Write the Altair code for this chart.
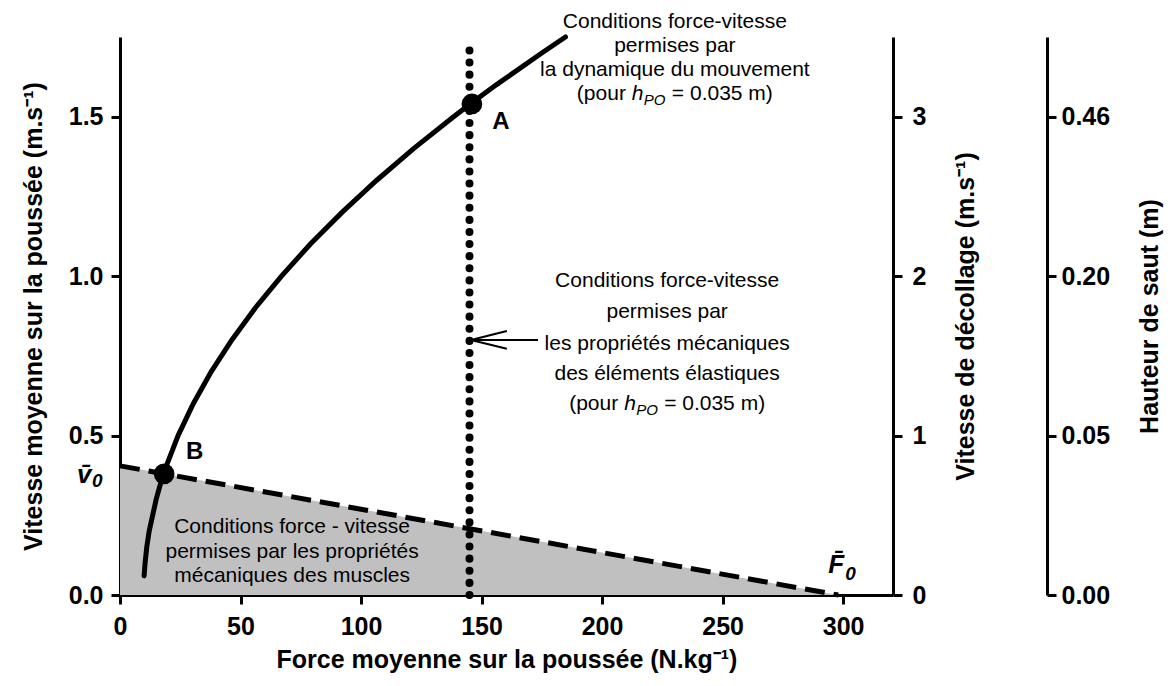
import altair as alt
import pandas as pd

FONT = "Liberation Sans"

# ---------------- data ----------------
# force-velocity conditions allowed by movement dynamics (hPO = 0.035 m)
curve_force = [10.0, 10.4, 11.1, 12.1, 15.0, 17.4, 19.0, 24.1, 30.4, 37.8, 46.4,
               56.1, 67.0, 78.9, 92.1, 106.4, 121.8, 138.4, 145.3, 156.1, 175.0, 184.8]
curve_velocity = [0.06, 0.10, 0.15, 0.20, 0.30, 0.365, 0.40, 0.50, 0.60, 0.70, 0.80,
                  0.90, 1.00, 1.10, 1.20, 1.30, 1.40, 1.50, 1.54, 1.60, 1.70, 1.75]
# muscle force-velocity relationship (v0 -> F0)
muscle_force = [0.0, 298.0]
muscle_velocity = [0.405, 0.0]
# elastic elements condition (vertical dotted line)
elastic_force = [145.0, 145.0]
elastic_velocity = [0.0, 1.73]
# highlighted points
point_names = ["A", "B"]
point_force = [146.0, 18.3]
point_velocity = [1.54, 0.38]
# axes ticks
x_ticks = [0, 50, 100, 150, 200, 250, 300]
y_ticks = [0.0, 0.5, 1.0, 1.5]
takeoff_ticks = [0, 1, 2, 3]
height_labels = ["0.00", "0.05", "0.20", "0.46"]

X_DOMAIN = [0, 320.7]
Y_DOMAIN = [0, 1.75]

curve_df = pd.DataFrame({"F": curve_force, "v": curve_velocity})
muscle_df = pd.DataFrame({"F": muscle_force, "v": muscle_velocity})
elastic_df = pd.DataFrame({"F": [elastic_force[0]], "v": [elastic_velocity[0]], "v2": [elastic_velocity[1]]})
points_df = pd.DataFrame({"name": point_names, "F": point_force, "v": point_velocity})

xs = alt.Scale(domain=X_DOMAIN, nice=False, zero=False)
ys = alt.Scale(domain=Y_DOMAIN, nice=False, zero=False)

common_axis = dict(
    domainColor="black", domainWidth=3, tickColor="black", tickWidth=3, tickSize=9,
    labelFont=FONT, labelFontSize=25, labelFontWeight="bold", labelColor="black",
    titleFont=FONT, titleFontSize=25, titleFontWeight="bold", titleColor="black",
    grid=False, labelFlush=False,
)

X_TITLE = "Force moyenne sur la poussée (N.kg⁻¹)"
Y_TITLE = "Vitesse moyenne sur la poussée (m.s⁻¹)"
x_axis = alt.Axis(values=x_ticks, format="d", labelPadding=10, titlePadding=8,
                  title=X_TITLE, **common_axis)
y_axis = alt.Axis(values=y_ticks, format=".1f", labelPadding=8, titlePadding=22,
                  title=Y_TITLE, **common_axis)

X = lambda: alt.X("F:Q", scale=xs, axis=x_axis, title=X_TITLE)
Y = lambda: alt.Y("v:Q", scale=ys, axis=y_axis, title=Y_TITLE)

area = alt.Chart(muscle_df).mark_area(color="#c0c0c0", opacity=1).encode(x=X(), y=Y())
dashed = alt.Chart(muscle_df).mark_line(color="black", strokeWidth=5, strokeDash=[20, 9]).encode(
    x=X(), y=Y())
dotted = alt.Chart(elastic_df).mark_rule(color="black", strokeWidth=8, strokeCap="round",
                                         strokeDash=[0.1, 12]).encode(
    x=X(), y=Y(), y2="v2:Q")
curve = alt.Chart(curve_df).mark_line(color="black", strokeWidth=5, strokeCap="round").encode(
    x=X(), y=Y())
points = alt.Chart(points_df).mark_point(filled=True, color="black", size=430, opacity=1).encode(
    x=X(), y=Y())

# arrow pointing to the elastic line
arrow_df = pd.DataFrame({
    "F": [145.6, 145.6, 145.6],
    "F2": [173.4, 160.5, 160.5],
    "v": [0.80, 0.80, 0.80],
    "v2": [0.80, 0.828, 0.772],
})
arrow = alt.Chart(arrow_df).mark_rule(color="black", strokeWidth=2).encode(
    x=X(), x2="F2:Q", y=Y(), y2="v2:Q")


def text_layer(df, **style):
    base = dict(font=FONT, color="black")
    base.update(style)
    return alt.Chart(df).mark_text(**base).encode(x=X(), y=Y(), text="t:N")


plain_df = pd.DataFrame({
    "t": ["Conditions force-vitesse", "permises par", "la dynamique du mouvement",
          "Conditions force-vitesse", "permises par", "les propriétés mécaniques",
          "des éléments élastiques",
          "Conditions force - vitesse", "permises par les propriétés", "mécaniques des muscles"],
    "F": [230.2, 230.2, 230.2, 227.0, 227.0, 227.0, 227.0, 71.4, 71.4, 71.4],
    "v": [1.778, 1.702, 1.627, 0.966, 0.869, 0.768, 0.674, 0.194, 0.116, 0.041],
})
plain = text_layer(plain_df, fontSize=21, align="center", baseline="alphabetic")

hpo_F = [230.2, 227.0]
hpo_v = [1.552, 0.580]
hpo1 = text_layer(pd.DataFrame({"t": ["(pour", "(pour"], "F": hpo_F, "v": hpo_v}),
                  fontSize=21, align="left", baseline="alphabetic", dx=-98)
hpo2 = text_layer(pd.DataFrame({"t": ["h", "h"], "F": hpo_F, "v": hpo_v}),
                  fontSize=21, fontStyle="italic", align="left", baseline="alphabetic", dx=-43)
hpo3 = text_layer(pd.DataFrame({"t": ["PO", "PO"], "F": hpo_F, "v": hpo_v}),
                  fontSize=15, fontStyle="italic", align="left", baseline="alphabetic", dx=-31, dy=5)
hpo4 = text_layer(pd.DataFrame({"t": ["= 0.035 m)", "= 0.035 m)"], "F": hpo_F, "v": hpo_v}),
                  fontSize=21, align="left", baseline="alphabetic", dx=-3)

labels_df = pd.DataFrame({"t": point_names, "F": [158.0, 31.0], "v": [1.483, 0.448]})
labels = text_layer(labels_df, fontSize=24, fontWeight="bold", align="center", baseline="middle")

sym_df = pd.DataFrame({"t": ["v\u0304", "F\u0304"], "F": [-17.8, 293.8], "v": [0.351, 0.069]})
sym = text_layer(sym_df, fontSize=26, fontWeight="bold", fontStyle="italic",
                 align="left", baseline="alphabetic")
sub_v = text_layer(pd.DataFrame({"t": ["0"], "F": [-17.8], "v": [0.351]}),
                   fontSize=19, fontWeight="bold", fontStyle="italic",
                   align="left", baseline="alphabetic", dx=15, dy=4)
sub_F = text_layer(pd.DataFrame({"t": ["0"], "F": [293.8], "v": [0.069]}),
                   fontSize=19, fontWeight="bold", fontStyle="italic",
                   align="left", baseline="alphabetic", dx=17, dy=7)

main = alt.layer(area, dashed, dotted, curve, points, arrow, plain,
                 hpo1, hpo2, hpo3, hpo4, labels, sym, sub_v, sub_F)

# secondary axes (take-off velocity = 2 x mean push-off velocity)
axis_df = pd.DataFrame({"t": [0.0, 3.5]})
takeoff_axis = alt.Chart(axis_df).mark_point(opacity=0).encode(
    y=alt.Y("t:Q", scale=alt.Scale(domain=[0, 3.5], nice=False),
            axis=alt.Axis(orient="right", values=takeoff_ticks, format="d",
                          labelPadding=10, titlePadding=28, titleAngle=270,
                          titleBaseline="top",
                          title="Vitesse de décollage (m.s⁻¹)", **common_axis)))

label_expr = "[" + ",".join("'%s'" % s for s in height_labels) + "][datum.value]"
height_axis = alt.Chart(axis_df).mark_point(opacity=0).encode(
    y=alt.Y("t:Q", scale=alt.Scale(domain=[0, 3.5], nice=False),
            axis=alt.Axis(orient="right", offset=154, values=takeoff_ticks,
                          labelExpr=label_expr, labelPadding=5, titlePadding=28,
                          titleAngle=270, titleBaseline="top",
                          title="Hauteur de saut (m)", **common_axis)))

chart = alt.layer(main, takeoff_axis, height_axis).resolve_scale(y="independent").properties(
    width=773, height=558,
    background="white",
    padding={"left": 112, "top": 29, "right": 272, "bottom": 83},
    autosize=alt.AutoSizeParams(type="none"),
).configure_view(stroke=None, strokeWidth=0)

chart.save("out.html", embed_options={"renderer": "svg", "actions": False})
